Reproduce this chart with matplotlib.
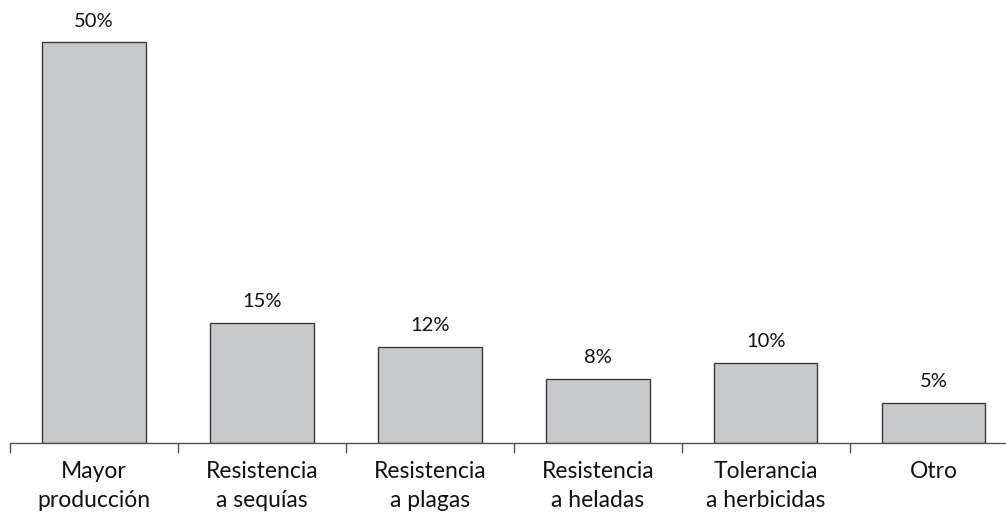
import matplotlib
matplotlib.use("Agg")
import matplotlib.pyplot as plt

categories = ["Mayor\nproducción", "Resistencia\na sequías", "Resistencia\na plagas",
              "Resistencia\na heladas", "Tolerancia\na herbicidas", "Otro"]
values = [50, 15, 12, 8, 10, 5]
value_labels = ["50%", "15%", "12%", "8%", "10%", "5%"]

plt.rcParams['font.family'] = ['Lato', 'DejaVu Sans']

fig = plt.figure(figsize=(10.06, 5.16), dpi=100)
ax = fig.add_axes([10 / 1006, 73 / 516, 996 / 1006, 443 / 516])

x = list(range(len(categories)))
ax.bar(x, values, width=0.615, color="#c8c9cb", edgecolor="#3a3a3a", linewidth=1.0)

for xi, v, lab in zip(x, values, value_labels):
    ax.annotate(lab, (xi, v), xytext=(0, 9), textcoords="offset points",
                ha="center", va="bottom", fontsize=14.5, color="#111111")

for s in ["top", "right", "left"]:
    ax.spines[s].set_visible(False)
ax.spines["bottom"].set_color("#555555")
ax.spines["bottom"].set_linewidth(1.0)
ax.set_yticks([])

# category boundaries carry the tick marks; labels sit under the bar centres
ax.set_xticks([i - 0.5 for i in range(len(categories) + 1)])
ax.set_xticklabels([])
ax.tick_params(axis="x", length=7, width=1.0, color="#555555", direction="out")

ax.set_xlim(-0.5, 5.43)
ax.set_ylim(0, 55.24)

for xi, cat in zip(x, categories):
    ax.text(xi, -2.3, cat, ha="center", va="top", fontsize=16.5, color="#111111",
            linespacing=1.45, transform=ax.transData, clip_on=False)

fig.savefig("out.png", dpi=100)
